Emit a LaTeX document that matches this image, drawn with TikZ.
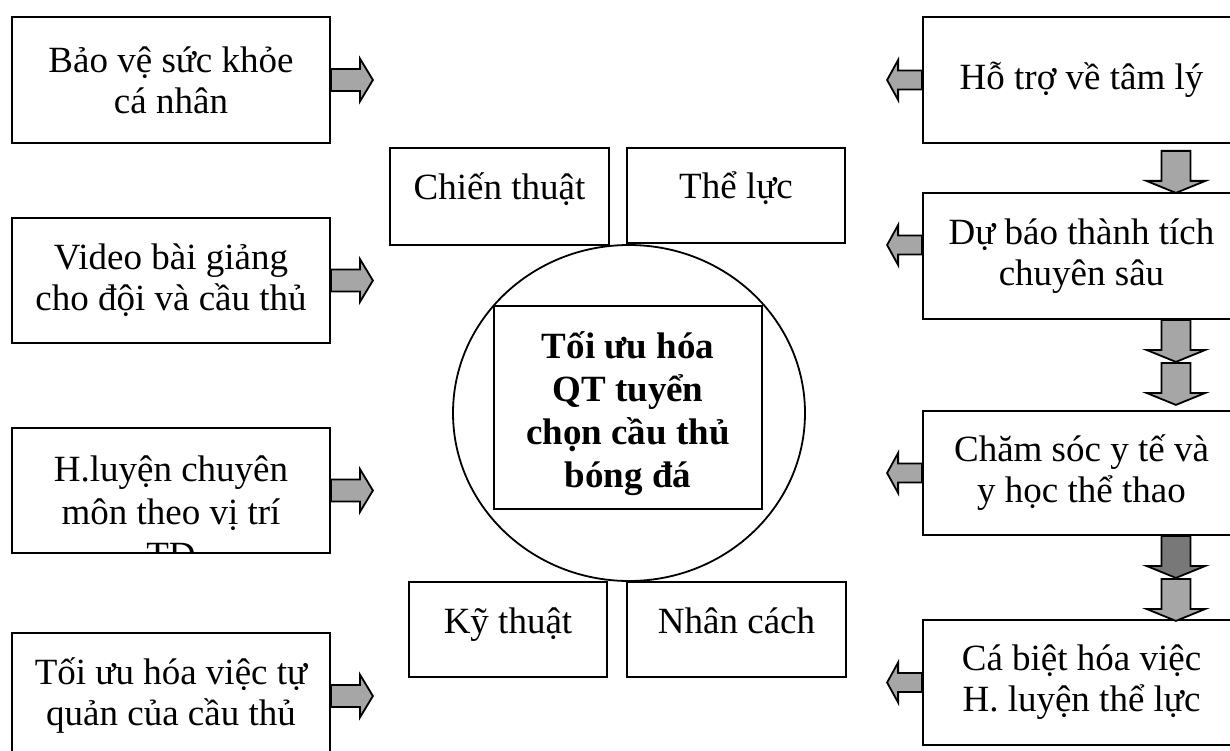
\documentclass[tikz,border=0pt]{standalone}
\usepackage{fontspec}
\setmainfont{Liberation Serif}
\usetikzlibrary{calc,shapes.geometric}
\definecolor{arrowfill}{RGB}{166,166,166}
\definecolor{arrowdark}{RGB}{120,120,120}
% #1 start point, #2 rotation, #3 fill, #4 length, #5 shaft half width, #6 head half width, #7 head length
\newcommand{\myarrow}[7]{%
  \begin{scope}[shift={#1}, rotate=#2]
    \draw[arrowline, fill=#3] (0,-#5) -- ({#4-#7},-#5) -- ({#4-#7},-#6) -- (#4,0)
      -- ({#4-#7},#6) -- ({#4-#7},#5) -- (0,#5) -- cycle;
  \end{scope}}
\begin{document}
\begin{tikzpicture}[x=1pt,y=-1pt,
  box/.style={draw, line width=1.8pt, fill=white, inner sep=0pt, align=center,
    font=\fontsize{37}{41}\selectfont},
  smallbox/.style={box, text height=30pt, text depth=23pt},
  txt/.style={inner sep=0pt, align=center, font=\fontsize{37}{43}\selectfont},
  coretxt/.style={inner sep=0pt, align=center, font=\fontsize{37}{43}\selectfont\bfseries},
  ring/.style={draw, line width=1.8pt, ellipse, inner sep=0pt},
  arrowline/.style={draw=black, line width=1.8pt, line join=miter}]
\path[use as bounding box] (0,0) rectangle (1230,751);
\clip (0,0) rectangle (1230,751);

% left column
\node[box, minimum width=318pt, minimum height=126pt] (l1) at (171,80) {Bảo vệ sức khỏe\\cá nhân};
\node[box, minimum width=318pt, minimum height=125pt] (l2) at (171,280.5) {Video bài giảng\\cho đội và cầu thủ};
\node[box, minimum width=318pt, minimum height=125pt] (l3) at (171,490.5) {};
\begin{scope}
  \clip (l3.north west) rectangle (l3.south east);
  \node[txt, anchor=north] (l3t) at ($(l3.north)+(0,28)$) {H.luyện chuyên\\môn theo vị trí\\TD};
\end{scope}
\node[box, minimum width=318pt, minimum height=126pt] (l4) at (171,696) {Tối ưu hóa việc tự\\quản của cầu thủ};

% right column
\node[box, minimum width=317pt, minimum height=126pt] (r1) at (1081.5,80) {Hỗ trợ về tâm lý};
\node[box, minimum width=317pt, minimum height=126pt] (r2) at (1081.5,256) {Dự báo thành tích\\chuyên sâu};
\node[box, minimum width=317pt, minimum height=124pt] (r3) at (1081.5,473) {Chăm sóc y tế và\\y học thể thao};
\node[box, minimum width=317pt, minimum height=125pt] (r4) at (1081.5,682.5) {Cá biệt hóa việc\\H. luyện thể lực};

% centre
\node[ring, minimum width=352pt, minimum height=336pt] (c) at (629,413) {};
\node[box, minimum width=268pt, minimum height=203pt] (k) at (628,407.5) {};
\node[coretxt] (kt) at ($(k.center)+(0,6)$) {Tối ưu hóa\\QT tuyển\\chọn cầu thủ\\bóng đá};
\node[smallbox, minimum width=219pt, minimum height=97pt] (t1) at (499.5,196.5) {Chiến thuật};
\node[smallbox, minimum width=218pt, minimum height=95pt] (t2) at (736,195.5) {Thể lực};
\node[smallbox, minimum width=198pt, minimum height=95pt] (b1) at (508,629.5) {Kỹ thuật};
\node[smallbox, minimum width=219pt, minimum height=95pt] (b2) at (736.5,629.5) {Nhân cách};

% arrows from left boxes
\myarrow{(l1.east)}{0}{arrowfill}{42}{11}{21.5}{13}
\myarrow{(l2.east)}{0}{arrowfill}{42}{11}{21.5}{13}
\myarrow{(l3.east)}{0}{arrowfill}{42}{11}{21.5}{13}
\myarrow{(l4.east)}{0}{arrowfill}{42}{11}{21.5}{13}

% arrows from right boxes
\myarrow{(r1.west)}{180}{arrowfill}{35}{9.5}{20}{11}
\myarrow{($(r2.west)+(0,-11)$)}{180}{arrowfill}{35}{9.5}{20}{11}
\myarrow{(r3.west)}{180}{arrowfill}{35}{9.5}{20}{11}
\myarrow{(r4.west)}{180}{arrowfill}{35}{9.5}{20}{11}

% down arrows
\myarrow{($(r1.south east)+(-65,7)$)}{-90}{arrowfill}{42}{14.5}{29.5}{12}
\myarrow{($(r2.south east)+(-65,0)$)}{-90}{arrowfill}{42}{14.5}{29.5}{12}
\myarrow{($(r2.south east)+(-65,43)$)}{-90}{arrowfill}{42}{14.5}{29.5}{12}
\myarrow{($(r3.south east)+(-65,0)$)}{-90}{arrowdark}{42}{14.5}{29.5}{12}
\myarrow{($(r3.south east)+(-65,43)$)}{-90}{arrowfill}{42}{14.5}{29.5}{12}
\end{tikzpicture}
\end{document}
